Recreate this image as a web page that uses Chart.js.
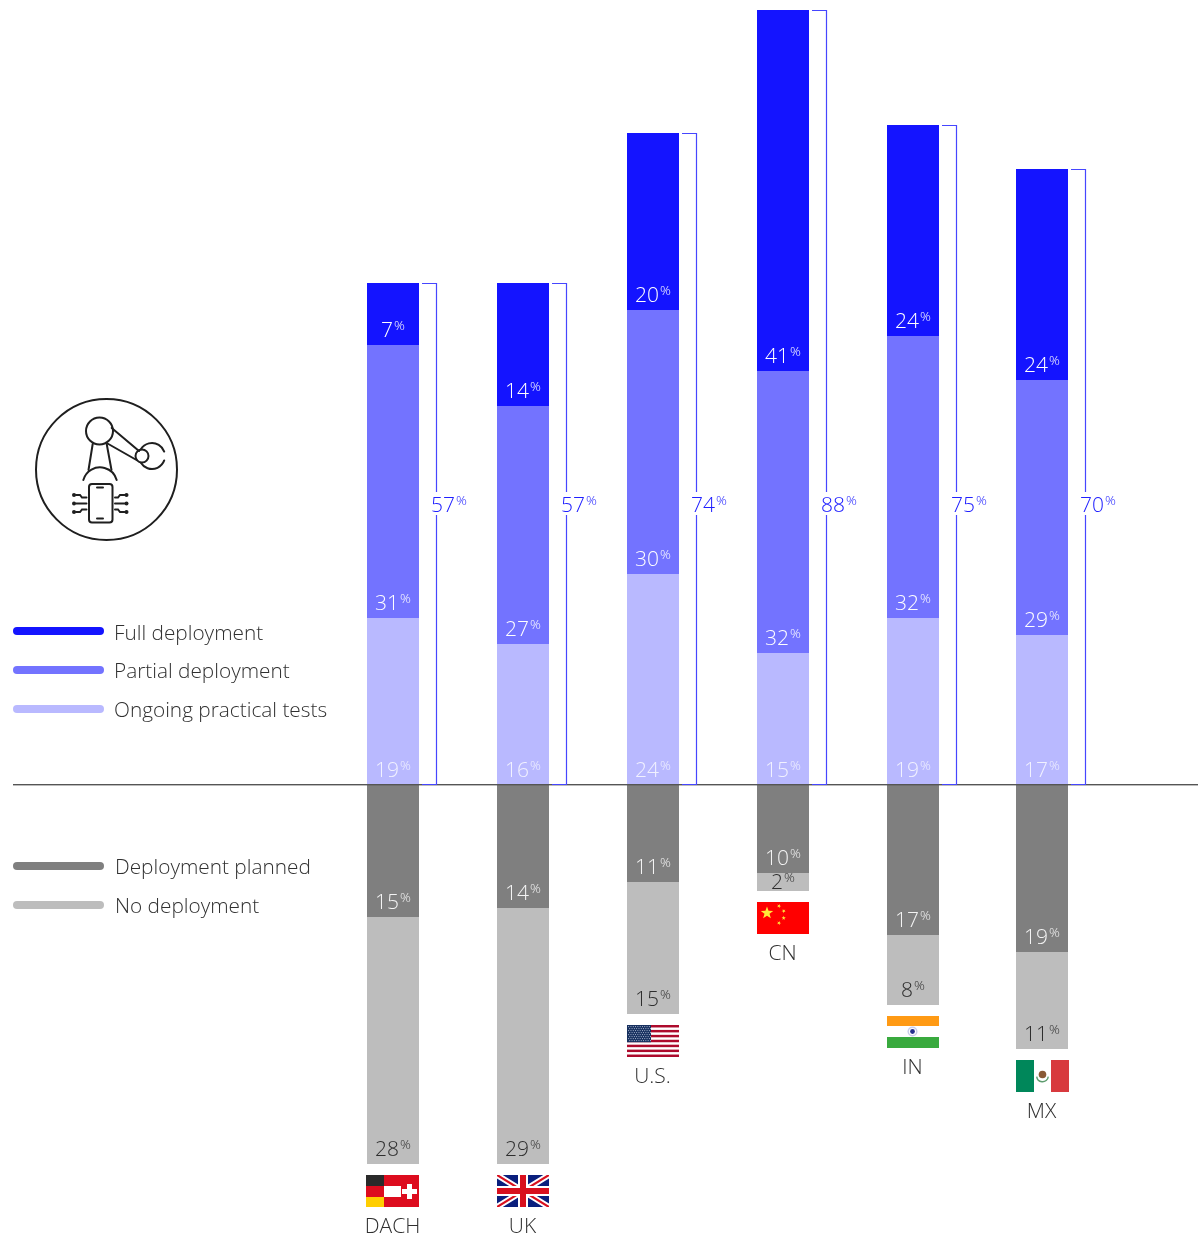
<!DOCTYPE html>
<html>
<head>
<meta charset="utf-8">
<title>Deployment status by country</title>
<style>
  html, body { margin: 0; padding: 0; background: #fff; }
  canvas { display: block; }
</style>
<script src="https://cdn.jsdelivr.net/npm/chart.js@4/dist/chart.umd.min.js"></script>
</head>
<body>
<canvas id="chart" width="1198" height="1236"></canvas>
<script>
// Share of respondents per country, in percent
const countries = ['DACH', 'UK', 'U.S.', 'CN', 'IN', 'MX'];
const fullDeployment = [7, 14, 20, 41, 24, 24];
const partialDeployment = [31, 27, 30, 32, 32, 29];
const ongoingTests = [19, 16, 24, 15, 19, 17];
const deploymentPlanned = [15, 14, 11, 10, 17, 19];
const noDeployment = [28, 29, 15, 2, 8, 11];
const usageTotals = [57, 57, 74, 88, 75, 70];

const FONT = '"Open Sans", sans-serif';
const BLUE_TEXT = '#2020ff';
const DARK_TEXT = '#303030';

const COLORS = {
  full: '#1414ff', partial: '#7373ff', ongoing: '#b9b9ff',
  planned: '#7f7f7f', none: '#bdbdbd'
};

const legendItems = [
  { text: 'Full deployment', color: COLORS.full, y: 631, tx: 114, base: 640 },
  { text: 'Partial deployment', color: COLORS.partial, y: 670, tx: 114, base: 678 },
  { text: 'Ongoing practical tests', color: COLORS.ongoing, y: 709, tx: 114, base: 717 },
  { text: 'Deployment planned', color: COLORS.planned, y: 866, tx: 115, base: 874 },
  { text: 'No deployment', color: COLORS.none, y: 905, tx: 115, base: 913 }
];

// Number with a small raised percent sign, centred on x when align is 'center'
function percentLabel(ctx, value, x, baseline, color, align) {
  const num = String(value);
  ctx.textBaseline = 'alphabetic';
  ctx.textAlign = 'left';
  ctx.font = `300 21px ${FONT}`;
  const nw = ctx.measureText(num).width;
  ctx.font = `300 13.5px ${FONT}`;
  const pw = ctx.measureText('%').width;
  const start = align === 'center' ? x - (nw + pw + 1) / 2 : x;
  ctx.fillStyle = color;
  ctx.font = `300 21px ${FONT}`;
  ctx.fillText(num, start, baseline);
  ctx.font = `300 13.5px ${FONT}`;
  ctx.fillText('%', start + nw + 1, baseline - 7);
}

function star(ctx, cx, cy, r, rot) {
  ctx.beginPath();
  for (let i = 0; i < 10; i++) {
    const a = rot + i * Math.PI / 5 - Math.PI / 2;
    const q = i % 2 ? r * 0.4 : r;
    ctx.lineTo(cx + q * Math.cos(a), cy + q * Math.sin(a));
  }
  ctx.closePath();
  ctx.fill();
}

// Flags are drawn in a 52x32 box whose top-left corner is x, y
const flags = {
  'DACH'(c, x0, y) {
    const x = x0 - 1;
    c.fillStyle = '#2a2a2a'; c.fillRect(x, y, 18, 11);
    c.fillStyle = '#dd0c1e'; c.fillRect(x, y + 11, 18, 11);
    c.fillStyle = '#ffce00'; c.fillRect(x, y + 22, 18, 10);
    c.fillStyle = '#dd0c1e'; c.fillRect(x + 18, y, 35, 32);
    c.fillStyle = '#fff';
    c.fillRect(x + 18, y + 11, 17, 11);
    c.fillRect(x + 36, y + 14, 15, 5);
    c.fillRect(x + 41, y + 9, 5, 15);
  },
  'UK'(c, x, y) {
    c.save();
    c.beginPath(); c.rect(x, y, 52, 32); c.clip();
    c.fillStyle = '#0a1f7d'; c.fillRect(x, y, 52, 32);
    const diag = (w, col) => {
      c.strokeStyle = col; c.lineWidth = w;
      c.beginPath();
      c.moveTo(x, y); c.lineTo(x + 52, y + 32);
      c.moveTo(x + 52, y); c.lineTo(x, y + 32);
      c.stroke();
    };
    diag(6, '#fff');
    diag(2.2, '#d8101e');
    c.fillStyle = '#fff';
    c.fillRect(x + 21, y, 10, 32);
    c.fillRect(x, y + 11, 52, 10);
    c.fillStyle = '#d8101e';
    c.fillRect(x + 23, y, 6, 32);
    c.fillRect(x, y + 13, 52, 6);
    c.restore();
  },
  'U.S.'(c, x, y) {
    const h = 32 / 13;
    c.fillStyle = '#fff'; c.fillRect(x, y, 52, 32);
    c.fillStyle = '#ad0a2c';
    for (let i = 0; i < 13; i += 2) c.fillRect(x, y + i * h, 52, h);
    c.fillStyle = '#17305f'; c.fillRect(x, y, 24, 7 * h);
    c.fillStyle = '#c9d2e6';
    for (let r = 0; r < 8; r++) {
      for (let k = 0; k < 10; k++) {
        c.fillRect(x + 1.2 + k * 2.3 + (r % 2) * 1.1, y + 1.2 + r * 2, 0.9, 0.9);
      }
    }
  },
  'CN'(c, x, y) {
    c.fillStyle = '#ff0000'; c.fillRect(x, y, 52, 32);
    c.fillStyle = '#ffe83a';
    star(c, x + 10, y + 11, 6.6, 0);
    star(c, x + 22, y + 4, 2.2, 0.4);
    star(c, x + 26.7, y + 9, 2.2, 0.8);
    star(c, x + 26.7, y + 16, 2.2, 0);
    star(c, x + 22, y + 21, 2.2, 0.4);
  },
  'IN'(c, x, y) {
    c.fillStyle = '#ff9a14'; c.fillRect(x, y, 52, 10);
    c.fillStyle = '#fff'; c.fillRect(x, y + 10, 52, 11);
    c.fillStyle = '#39aa3e'; c.fillRect(x, y + 21, 52, 11);
    c.fillStyle = '#c9cdea';
    c.beginPath(); c.arc(x + 25.5, y + 15.5, 5, 0, Math.PI * 2); c.fill();
    c.fillStyle = '#fff';
    c.beginPath(); c.arc(x + 25.5, y + 15.5, 3.6, 0, Math.PI * 2); c.fill();
    c.fillStyle = '#26318f';
    c.beginPath(); c.arc(x + 25.5, y + 15.5, 2.4, 0, Math.PI * 2); c.fill();
  },
  'MX'(c, x, y) {
    c.fillStyle = '#00875a'; c.fillRect(x, y, 18, 32);
    c.fillStyle = '#fff'; c.fillRect(x + 18, y, 17, 32);
    c.fillStyle = '#d83a3e'; c.fillRect(x + 35, y, 18, 32);
    c.strokeStyle = '#5d9c6e'; c.lineWidth = 1.4;
    c.beginPath(); c.arc(x + 26.5, y + 16, 5.8, 0.1, Math.PI - 0.1); c.stroke();
    c.fillStyle = '#8a5a35';
    c.beginPath(); c.arc(x + 26.5, y + 14.5, 3.8, 0, Math.PI * 2); c.fill();
  }
};

// Robot arm above a phone, inside a thin ring
function drawIcon(c) {
  c.save();
  c.strokeStyle = '#1f1f1f';
  c.fillStyle = '#1f1f1f';
  c.lineWidth = 2;
  c.lineCap = 'round';
  const seg = (a, b, d, e) => { c.beginPath(); c.moveTo(a, b); c.lineTo(d, e); c.stroke(); };
  const ring = (x, y, r, s = 0, t = Math.PI * 2) => { c.beginPath(); c.arc(x, y, r, s, t); c.stroke(); };
  ring(106.5, 469.5, 70.5);
  ring(99.5, 431, 13.5);
  ring(142, 456, 6.5);
  seg(111.7, 428, 139, 451);
  seg(107.5, 443.5, 136.5, 460);
  ring(152, 456, 13, -2.6, -0.35);
  ring(152, 456, 13, 0.35, 2.6);
  seg(92.7, 444, 88.5, 470);
  seg(106.7, 444, 111.5, 470);
  ring(100, 484.6, 17.3, Math.PI + 0.27, -0.27);
  c.beginPath(); c.roundRect(89, 484, 23.5, 38.5, 3); c.stroke();
  seg(97, 487.5, 103, 487.5);
  seg(97, 518.5, 103, 518.5);
  const rows = [495, 503.5, 512];
  rows.forEach((y, i) => {
    c.beginPath(); c.arc(74, y, 2, 0, Math.PI * 2); c.fill();
    c.beginPath(); c.arc(126.5, y, 2, 0, Math.PI * 2); c.fill();
    const off = i === 0 ? 2.5 : i === 2 ? -2.5 : 0;
    c.beginPath(); c.moveTo(76, y); c.lineTo(80, y); c.lineTo(82, y + off); c.lineTo(86.5, y + off); c.stroke();
    c.beginPath(); c.moveTo(124.5, y); c.lineTo(120, y); c.lineTo(118, y + off); c.lineTo(115, y + off); c.stroke();
  });
  c.restore();
}

// Keeps bar edges on whole pixels so the fills stay crisp
const pixelSnap = {
  id: 'pixelSnap',
  beforeDatasetsDraw(chart) {
    chart.data.datasets.forEach((ds, di) => {
      chart.getDatasetMeta(di).data.forEach(bar => {
        bar.x = Math.round(bar.x);
        bar.y = Math.round(bar.y);
        bar.base = Math.round(bar.base);
      });
    });
  }
};

const overlay = {
  id: 'overlay',
  afterDraw(chart) {
    const c = chart.ctx;
    const y = chart.scales.y;
    const zero = Math.round(y.getPixelForValue(0));
    c.save();

    // Zero line across the whole width
    c.fillStyle = '#555';
    c.fillRect(13, zero - 1, 1185, 1.4);

    // Value labels near the lower edge of every segment; short segments get them centred
    const labelColors = ['#f1f1ff', '#fff', '#fff', '#f4f4f4', '#2e2e2e'];
    chart.data.datasets.forEach((ds, di) => {
      const meta = chart.getDatasetMeta(di);
      meta.data.forEach((bar, i) => {
        const lower = Math.max(bar.y, bar.base);
        const upper = Math.min(bar.y, bar.base);
        const baseline = Math.max(lower - 8, (lower + upper) / 2 + 7);
        percentLabel(c, Math.abs(ds.data[i]), bar.x, baseline, labelColors[di], 'center');
      });
    });

    const lastMeta = chart.getDatasetMeta(chart.data.datasets.length - 1);
    countries.forEach((name, i) => {
      const bar = lastMeta.data[i];
      const cx = bar.x;

      // Bracket spanning all levels of use, with its total
      const top = Math.round(y.getPixelForValue(usageTotals[i])) + 0.5;
      const left = cx + 29;
      const right = left + 14.5;
      c.strokeStyle = '#4646ff';
      c.lineWidth = 1.2;
      c.beginPath();
      c.moveTo(left, top); c.lineTo(right, top); c.lineTo(right, zero - 0.5); c.lineTo(left, zero - 0.5);
      c.stroke();
      c.fillStyle = '#fff';
      c.fillRect(left + 8, 492, 36, 23);
      percentLabel(c, usageTotals[i], cx + 38, 512, BLUE_TEXT, 'left');

      // Flag and country code below the bar
      const fx = cx - 26;
      const fy = bar.y + 11;
      flags[name](c, fx, fy);
      c.fillStyle = DARK_TEXT;
      c.font = `300 21px ${FONT}`;
      c.textAlign = 'center';
      c.textBaseline = 'alphabetic';
      c.fillText(name, cx - 0.5, fy + 32 + 26);
    });

    // Legend
    legendItems.forEach(it => {
      c.fillStyle = it.color;
      c.beginPath();
      c.roundRect(13, it.y - 4, 91, 8, 4);
      c.fill();
      c.fillStyle = DARK_TEXT;
      c.font = `300 20.8px ${FONT}`;
      c.textAlign = 'left';
      c.textBaseline = 'alphabetic';
      c.fillText(it.text, it.tx, it.base);
    });

    drawIcon(c);
    c.restore();
  }
};

const series = (label, data, color) => ({
  label, data, backgroundColor: color, stack: 'status', barThickness: 52, borderWidth: 0, inflateAmount: 0
});

new Chart(document.getElementById('chart'), {
  type: 'bar',
  data: {
    labels: countries,
    datasets: [
      series('Ongoing practical tests', ongoingTests, COLORS.ongoing),
      series('Partial deployment', partialDeployment, COLORS.partial),
      series('Full deployment', fullDeployment, COLORS.full),
      series('Deployment planned', deploymentPlanned.map(v => -v), COLORS.planned),
      series('No deployment', noDeployment.map(v => -v), COLORS.none)
    ]
  },
  options: {
    responsive: false,
    animation: false,
    layout: { padding: { left: 328.5, right: 90.7, top: 10, bottom: 0 } },
    plugins: { legend: { display: false }, tooltip: { enabled: false } },
    scales: {
      x: { display: false, stacked: true },
      y: { display: false, stacked: true, min: -51.22, max: 88.02 }
    }
  },
  plugins: [pixelSnap, overlay]
});
</script>
</body>
</html>
